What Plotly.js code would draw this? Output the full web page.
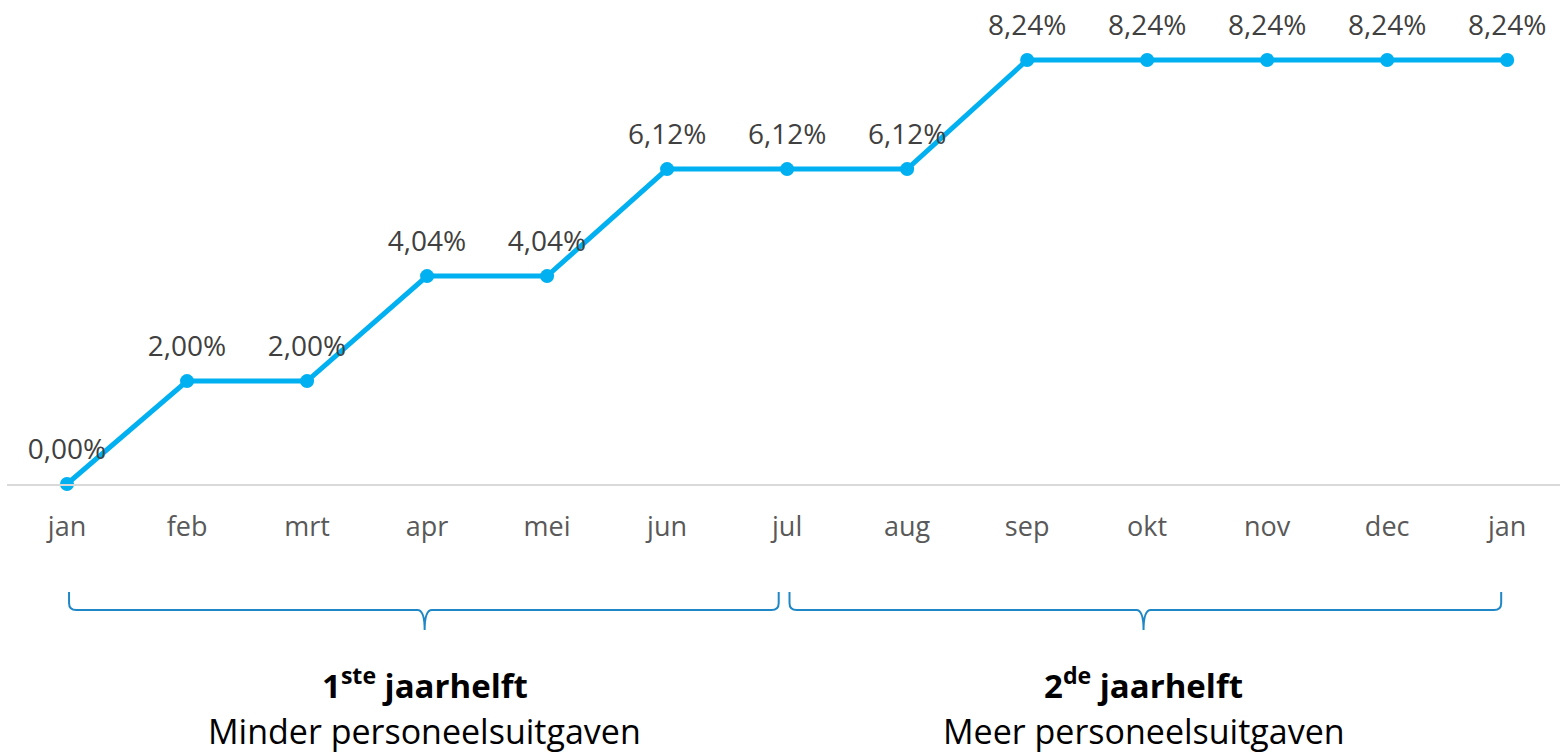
<!DOCTYPE html>
<html>
<head>
<meta charset="utf-8">
<script src="https://cdn.plot.ly/plotly-3.0.1.min.js"></script>
<style>html,body{margin:0;padding:0;background:#fff;}#chart{width:1560px;height:755px;}</style>
</head>
<body>
<div id="chart"></div>
<script>
var months = ['jan','feb','mrt','apr','mei','jun','jul','aug','sep','okt','nov','dec','jan'];
var values = [0.00, 2.00, 2.00, 4.04, 4.04, 6.12, 6.12, 6.12, 8.24, 8.24, 8.24, 8.24, 8.24];
var halfTitles = ['1<sup>ste</sup> jaarhelft', '2<sup>de</sup> jaarhelft'];
var halfSubtitles = ['Minder personeelsuitgaven', 'Meer personeelsuitgaven'];

var idx = months.map(function(_, i){ return i; });
var labels = values.map(function(v){ return v.toFixed(2).replace('.', ',') + '%'; });

var FONT = 'Open Sans, sans-serif';

var lineTrace = {
  x: idx, y: values, type: 'scatter', mode: 'lines+markers',
  line: {color: '#00B0F0', width: 5},
  marker: {color: '#00B0F0', size: 14},
  cliponaxis: false, hoverinfo: 'skip'
};
var labelTrace = {
  x: idx, y: values, type: 'scatter', mode: 'markers+text',
  marker: {color: 'rgba(0,0,0,0)', size: 28},
  text: labels, textposition: 'top center',
  textfont: {family: FONT, size: 28, color: '#404040'},
  cliponaxis: false, hoverinfo: 'skip'
};

function brace(x0, x1, xm){
  var yt = -0.2231, yh = -0.2603, yb = -0.3017, dx = 0.06, dy = 0.0145;
  return 'M' + x0 + ',' + yt +
    ' L' + x0 + ',' + (yh + dy) +
    ' Q' + x0 + ',' + yh + ' ' + (x0 + dx) + ',' + yh +
    ' L' + (xm - dx) + ',' + yh +
    ' Q' + xm + ',' + yh + ' ' + xm + ',' + yb +
    ' Q' + xm + ',' + yh + ' ' + (xm + dx) + ',' + yh +
    ' L' + (x1 - dx) + ',' + yh +
    ' Q' + x1 + ',' + yh + ' ' + x1 + ',' + (yh + dy) +
    ' L' + x1 + ',' + yt;
}

var layout = {
  width: 1560, height: 755,
  margin: {l: 7, r: 0, t: 0, b: 271},
  paper_bgcolor: '#fff', plot_bgcolor: '#fff',
  showlegend: false,
  xaxis: {
    range: [-0.5, 12.44], tickvals: idx, ticktext: months,
    showgrid: false, zeroline: false, showline: true, linecolor: '#D9D9D9', linewidth: 2,
    ticks: '', ticklabelstandoff: 18,
    tickfont: {family: FONT, size: 27, color: '#595959'}
  },
  yaxis: {range: [0, 9.406], visible: false, showgrid: false, zeroline: false},
  shapes: [
    {type: 'path', xref: 'x', yref: 'paper', path: brace(0.017, 5.93, 2.98), line: {color: '#1F87C6', width: 2}},
    {type: 'path', xref: 'x', yref: 'paper', path: brace(6.02, 11.95, 8.97), line: {color: '#1F87C6', width: 2}}
  ],
  annotations: [
    {x: 2.98, y: -0.4112, xref: 'x', yref: 'paper', yanchor: 'middle', text: '<b>' + halfTitles[0] + '</b>', showarrow: false, font: {family: FONT, size: 33, color: '#000'}},
    {x: 2.98, y: -0.5103, xref: 'x', yref: 'paper', yanchor: 'middle', text: halfSubtitles[0], showarrow: false, font: {family: FONT, size: 34, color: '#000'}},
    {x: 8.97, y: -0.4112, xref: 'x', yref: 'paper', yanchor: 'middle', text: '<b>' + halfTitles[1] + '</b>', showarrow: false, font: {family: FONT, size: 33, color: '#000'}},
    {x: 8.97, y: -0.5103, xref: 'x', yref: 'paper', yanchor: 'middle', text: halfSubtitles[1], showarrow: false, font: {family: FONT, size: 34, color: '#000'}}
  ]
};

Plotly.newPlot('chart', [lineTrace, labelTrace], layout, {displayModeBar: false, staticPlot: true});
</script>
</body>
</html>
